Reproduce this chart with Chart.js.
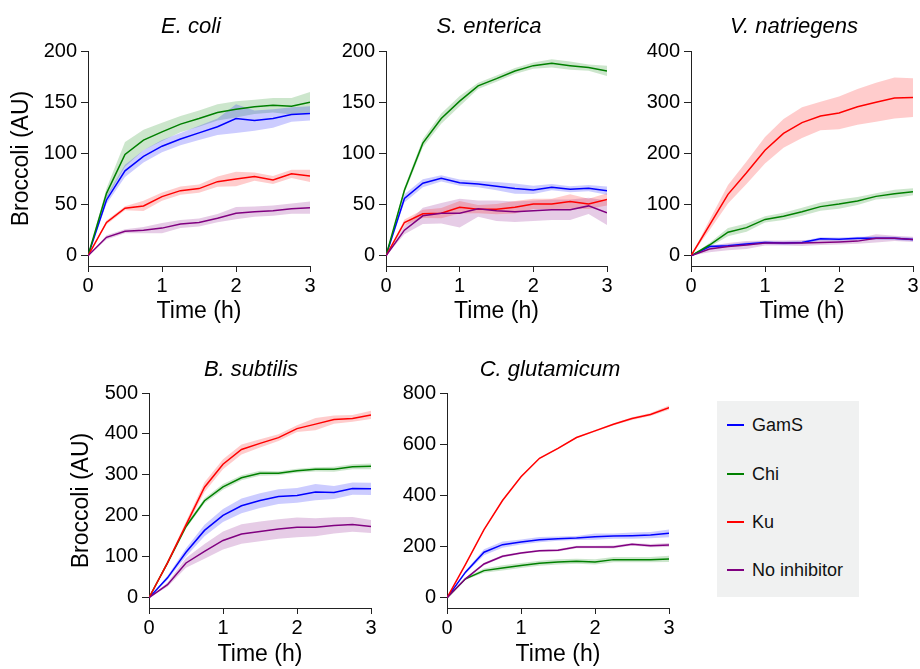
<!DOCTYPE html>
<html><head><meta charset="utf-8">
<script src="https://cdn.jsdelivr.net/npm/chart.js@4.4.0/dist/chart.umd.min.js"></script>
<style>
html,body{margin:0;padding:0;width:920px;height:669px;overflow:hidden;background:#fff;position:relative;font-family:'Liberation Sans',Arial,sans-serif}
canvas{position:absolute}
#legend{position:absolute;left:717px;top:401px;width:142px;height:196px;background:#f0f1f1}
.li{position:absolute;left:10px;height:24px;display:flex;align-items:center;font-size:18px;color:#111;white-space:nowrap}
.li .sw{display:inline-block;width:17px;height:2px;margin-right:8px}
</style></head><body>
<canvas id="c1" width="382" height="330" style="left:0px;top:0px"></canvas>
<canvas id="c2" width="378" height="330" style="left:300px;top:0px"></canvas>
<canvas id="c3" width="368" height="330" style="left:610px;top:0px"></canvas>
<canvas id="c4" width="382" height="329" style="left:60px;top:340px"></canvas>
<canvas id="c5" width="300" height="329" style="left:400px;top:340px"></canvas>
<div id="legend"></div>
<script>
// ---------- data ----------
const times = [0, 0.25, 0.5, 0.75, 1, 1.25, 1.5, 1.75, 2, 2.25, 2.5, 2.75, 3];
const seriesNames = ['GamS', 'Chi', 'Ku', 'No inhibitor'];
const xTickValues = [0, 1, 2, 3];

// E. coli
const ecoliGamS = [0, 54.5, 83, 97, 107, 114, 120, 126, 134, 132, 134, 138, 139];
const ecoliGamSErr = [0, 4, 6, 6, 6, 6, 7, 8, 14, 10, 9, 7, 7];
const ecoliChi = [0, 61, 99, 113, 121, 128.6, 134, 140, 143, 145.5, 147, 146, 150];
const ecoliChiErr = [0, 5, 12, 10, 9, 8, 8, 8, 8, 7, 7, 8, 10];
const ecoliKu = [0, 32.5, 46.4, 48.7, 57.8, 63.6, 65.6, 72.4, 75, 77.3, 74, 80, 78];
const ecoliKuErr = [0, 2, 2, 5, 4, 4, 4, 5, 7, 4, 4, 4, 6];
const ecoliNone = [0, 18, 24, 25, 27, 31, 32.5, 36.7, 41.6, 43, 44, 46, 47];
const ecoliNoneErr = [0, 2, 2, 3, 5, 4, 4, 4, 6, 5, 5, 5, 6];
const ecoliTicks = [0, 50, 100, 150, 200];

// S. enterica
const sentGamS = [0, 56, 70.8, 75.6, 71.4, 70, 68, 65.6, 64.3, 67, 65, 66, 63.6];
const sentGamSErr = [0, 4, 4, 3, 3, 3, 4, 5, 4, 3, 3, 3, 4];
const sentChi = [0, 64, 110, 134, 151, 166, 173, 180.5, 185.7, 188, 185.7, 183.8, 180.5];
const sentChiErr = [0, 3, 4, 5, 5, 3, 3, 3, 3, 4, 4, 3, 5];
const sentKu = [0, 32.5, 41, 41.6, 47.4, 45.5, 45.5, 47.4, 50.6, 50.6, 53, 50.6, 55];
const sentKuErr = [0, 3, 4, 5, 6, 4, 5, 6, 5, 5, 7, 5, 6];
const sentNone = [0, 25, 39, 41.6, 41.6, 46, 44, 43, 44, 45, 45, 48.7, 42];
const sentNoneErr = [0, 4, 8, 10, 14, 8, 10, 10, 10, 10, 10, 8, 12];
const sentTicks = [0, 50, 100, 150, 200];

// V. natriegens
const vnatGamS = [0, 18, 19.5, 23, 26, 24.7, 26, 33, 32.5, 34, 34.4, 34, 32];
const vnatGamSErr = [0, 3, 3, 3, 3, 3, 3, 3, 3, 3, 3, 3, 3];
const vnatChi = [0, 21, 46, 55, 71, 77, 86, 96, 101, 107, 116, 121, 125];
const vnatChiErr = [0, 4, 8, 8, 6, 7, 8, 8, 9, 8, 6, 8, 7];
const vnatKu = [0, 60, 120, 162, 206, 239, 260, 273, 279, 291, 300, 308, 309];
const vnatKuErr = [0, 10, 18, 22, 26, 28, 30, 28, 32, 35, 38, 40, 38];
const vnatNone = [0, 13, 18, 21, 25, 25, 25, 26, 27, 28.6, 34, 34, 32];
const vnatNoneErr = [0, 6, 7, 8, 5, 5, 6, 5, 5, 5, 8, 5, 5];
const vnatTicks = [0, 100, 200, 300, 400];

// B. subtilis
const bsubGamS = [0, 48.6, 111, 164.5, 201, 224.5, 237.4, 247, 250, 258, 257, 266.6, 266];
const bsubGamSErr = [0, 5, 10, 14, 16, 18, 18, 18, 18, 20, 16, 15, 15];
const bsubChi = [0, 85, 174, 237, 271, 293, 304, 304, 310, 313.6, 314, 320, 321];
const bsubChiErr = [0, 4, 5, 6, 7, 6, 6, 5, 5, 5, 6, 6, 7];
const bsubKu = [0, 85, 178, 270, 326, 362, 377, 391, 413, 424, 435, 438, 446.5];
const bsubKuErr = [0, 5, 8, 12, 12, 12, 10, 8, 8, 15, 10, 8, 10];
const bsubNone = [0, 32, 85, 113.5, 140, 155.6, 162, 168, 172, 172, 176.7, 179, 174];
const bsubNoneErr = [0, 5, 12, 18, 22, 24, 24, 24, 24, 22, 20, 18, 16];
const bsubTicks = [0, 100, 200, 300, 400, 500];

// C. glutamicum
const cgluGamS = [0, 100, 178, 207.5, 218, 227, 231, 233.5, 238.6, 241, 242.5, 245, 251.6];
const cgluGamSErr = [0, 6, 12, 12, 10, 10, 8, 8, 12, 10, 12, 12, 15];
const cgluChi = [0, 74, 106, 116.7, 125.8, 135, 140, 142.7, 140, 149, 149, 149, 151.7];
const cgluChiErr = [0, 4, 8, 10, 10, 10, 10, 10, 10, 10, 10, 10, 12];
const cgluKu = [0, 130, 266, 380, 473, 545, 584, 626, 652, 678, 700, 716, 743];
const cgluKuErr = [0, 3, 3, 3, 3, 3, 3, 3, 3, 4, 5, 6, 8];
const cgluNone = [0, 74, 132, 162, 175, 184, 185.5, 198.4, 198.4, 198.4, 208.8, 203.6, 206];
const cgluNoneErr = [0, 4, 5, 5, 4, 4, 5, 5, 5, 6, 5, 6, 8];
const cgluTicks = [0, 200, 400, 600, 800];

// ---------- styling ----------
const lineColors = ['#0000ff', '#008000', '#ff0000', '#800080'];
const bandColors = ['rgba(0,0,255,0.2)', 'rgba(0,128,0,0.2)', 'rgba(255,0,0,0.2)', 'rgba(128,0,128,0.2)'];
const FONT = "'Liberation Sans', Arial, sans-serif";
const AXIS = '#222';

const panels = [
  {id:'c1', title:'E. coli', means:[ecoliGamS, ecoliChi, ecoliKu, ecoliNone], errs:[ecoliGamSErr, ecoliChiErr, ecoliKuErr, ecoliNoneErr], ticks:ecoliTicks, yTitle:true, yW:88, rW:72, padTop:14, titlePadB:10.6, xH:64, xTitlePadB:4.7, yTitlePadT:8},
  {id:'c2', title:'S. enterica', means:[sentGamS, sentChi, sentKu, sentNone], errs:[sentGamSErr, sentChiErr, sentKuErr, sentNoneErr], ticks:sentTicks, yTitle:false, yW:86, rW:71, padTop:14, titlePadB:10.6, xH:64, xTitlePadB:4.7, yTitlePadT:8},
  {id:'c3', title:'V. natriegens', means:[vnatGamS, vnatChi, vnatKu, vnatNone], errs:[vnatGamSErr, vnatChiErr, vnatKuErr, vnatNoneErr], ticks:vnatTicks, yTitle:false, yW:81, rW:65, padTop:14, titlePadB:10.6, xH:64, xTitlePadB:4.7, yTitlePadT:8},
  {id:'c4', title:'B. subtilis', means:[bsubGamS, bsubChi, bsubKu, bsubNone], errs:[bsubGamSErr, bsubChiErr, bsubKuErr, bsubNoneErr], ticks:bsubTicks, yTitle:true, yW:89, rW:71, padTop:17, titlePadB:9.6, xH:61, xTitlePadB:1, yTitlePadT:8},
  {id:'c5', title:'C. glutamicum', means:[cgluGamS, cgluChi, cgluKu, cgluNone], errs:[cgluGamSErr, cgluChiErr, cgluKuErr, cgluNoneErr], ticks:cgluTicks, yTitle:false, yW:47, rW:31, padTop:17, titlePadB:9.6, xH:61, xTitlePadB:1, yTitlePadT:8}
];

function pts(vals, sign, errs) {
  return times.map((t, i) => ({x: t, y: vals[i] + sign * (errs ? errs[i] : 0)}));
}

panels.forEach(p => {
  const datasets = [];
  p.means.forEach((m, s) => {
    const base = datasets.length;
    datasets.push({label: seriesNames[s] + ' lo', data: pts(m, -1, p.errs[s]), borderWidth: 0, pointRadius: 0, fill: false, order: 20, borderColor: 'rgba(0,0,0,0)'});
    datasets.push({label: seriesNames[s] + ' hi', data: pts(m, 1, p.errs[s]), borderWidth: 0, pointRadius: 0, fill: base, backgroundColor: bandColors[s], order: 20, borderColor: 'rgba(0,0,0,0)'});
    datasets.push({label: seriesNames[s], data: pts(m, 0), borderColor: lineColors[s], borderWidth: 1.5, pointRadius: 0, fill: false, order: 4 - s, tension: 0});
  });
  const yMax = p.ticks[p.ticks.length - 1];
  new Chart(document.getElementById(p.id), {
    type: 'line',
    data: {datasets},
    options: {
      responsive: false, animation: false, devicePixelRatio: 1,
      layout: {padding: {top: p.padTop, left: 0, right: 0, bottom: 0}},
      plugins: {
        legend: {display: false}, tooltip: {enabled: false},
        title: {display: true, text: p.title, color: '#000', font: {family: FONT, size: 22, style: 'italic', weight: 'normal'}, padding: {top: 0, bottom: p.titlePadB}}
      },
      scales: {
        x: {
          type: 'linear', min: 0, max: 3,
          afterBuildTicks: s => { s.ticks = xTickValues.map(v => ({value: v})); },
          afterFit: s => { s.height = p.xH; },
          grid: {display: true, drawOnChartArea: false, drawTicks: true, tickLength: 6, color: AXIS, lineWidth: 1},
          border: {display: true, color: AXIS, width: 1},
          ticks: {color: '#000', font: {family: FONT, size: 20}, padding: 2, maxRotation: 0},
          title: {display: true, text: 'Time (h)', color: '#000', font: {family: FONT, size: 23}, padding: {top: 0, bottom: p.xTitlePadB}}
        },
        y: {
          type: 'linear', position: 'left', min: -0.05 * yMax, max: yMax,
          afterBuildTicks: s => { s.ticks = p.ticks.map(v => ({value: v})); },
          afterFit: s => { s.width = p.yW; },
          grid: {display: true, drawOnChartArea: false, drawTicks: true, tickLength: 7, color: AXIS, lineWidth: 1},
          border: {display: true, color: AXIS, width: 1},
          ticks: {color: '#000', font: {family: FONT, size: 20}, padding: 4},
          title: {display: p.yTitle, text: 'Broccoli (AU)', color: '#000', font: {family: FONT, size: 23}, padding: {top: p.yTitlePadT, bottom: 0}}
        },
        yR: {
          type: 'linear', position: 'right', display: true,
          afterFit: s => { s.width = p.rW; },
          grid: {display: false, drawTicks: false}, border: {display: false}, ticks: {display: false}
        }
      }
    }
  });
});

// HTML legend
const legendEl = document.getElementById('legend');
const legendTops = [12, 61, 109, 157];
seriesNames.forEach((n, i) => {
  const d = document.createElement('div');
  d.className = 'li';
  d.style.top = legendTops[i] + 'px';
  d.innerHTML = '<span class="sw" style="background:' + lineColors[i] + '"></span>' + n;
  legendEl.appendChild(d);
});
</script>
</body></html>
